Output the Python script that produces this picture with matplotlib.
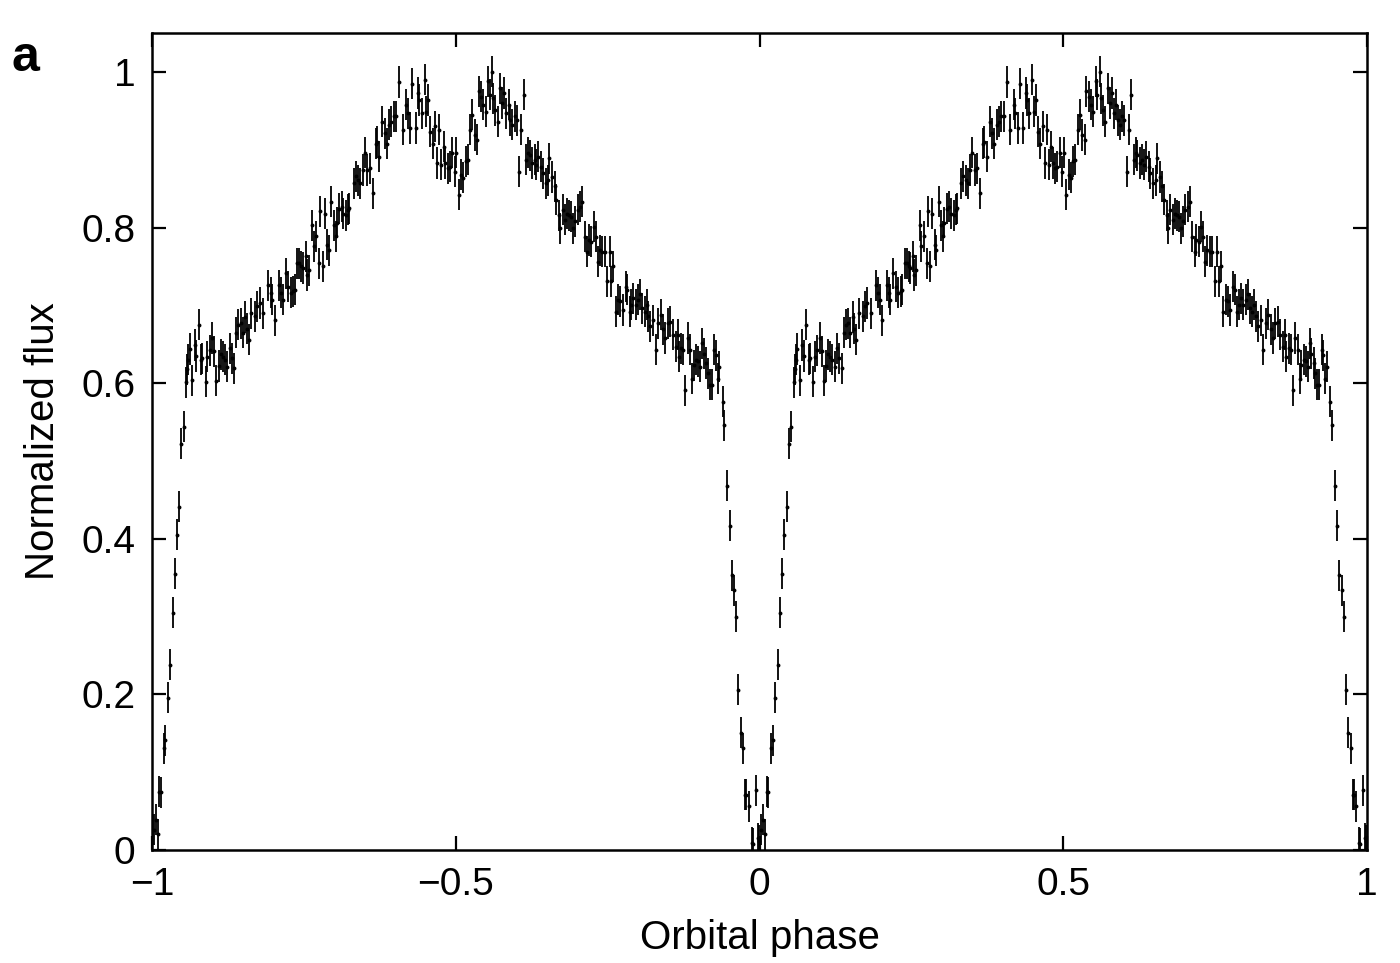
import numpy as np
import matplotlib
matplotlib.use("Agg")
import matplotlib.pyplot as plt

# one orbital cycle (phase in [-1, 0)); it is drawn twice
phase_cycle = [
    -0.997, -0.994, -0.991, -0.988, -0.986, -0.981, -0.978, -0.974, -0.970, -0.966,
    -0.963, -0.959, -0.955, -0.952, -0.948, -0.944, -0.942, -0.940, -0.938, -0.934,
    -0.930, -0.927, -0.923, -0.919, -0.917, -0.912, -0.909, -0.905, -0.901, -0.898,
    -0.894, -0.890, -0.887, -0.884, -0.880, -0.876, -0.872, -0.869, -0.865, -0.861,
    -0.858, -0.854, -0.851, -0.847, -0.844, -0.841, -0.837, -0.830, -0.827, -0.823,
    -0.817, -0.809, -0.805, -0.802, -0.798, -0.791, -0.787, -0.785, -0.780, -0.776,
    -0.772, -0.768, -0.765, -0.761, -0.758, -0.754, -0.752, -0.747, -0.745, -0.742,
    -0.736, -0.734, -0.730, -0.725, -0.723, -0.719, -0.716, -0.712, -0.709, -0.705,
    -0.701, -0.698, -0.696, -0.692, -0.688, -0.685, -0.680, -0.677, -0.675, -0.668,
    -0.665, -0.661, -0.657, -0.653, -0.650, -0.646, -0.642, -0.637, -0.632, -0.630,
    -0.626, -0.621, -0.617, -0.614, -0.610, -0.606, -0.602, -0.598, -0.593, -0.587,
    -0.582, -0.579, -0.575, -0.572, -0.566, -0.562, -0.560, -0.556, -0.551, -0.549,
    -0.545, -0.542, -0.538, -0.534, -0.531, -0.527, -0.524, -0.520, -0.517, -0.513,
    -0.510, -0.506, -0.502, -0.499, -0.495, -0.491, -0.488, -0.484, -0.480, -0.476,
    -0.473, -0.469, -0.465, -0.462, -0.458, -0.455, -0.451, -0.447, -0.444, -0.440,
    -0.438, -0.435, -0.431, -0.427, -0.424, -0.420, -0.417, -0.413, -0.410, -0.407,
    -0.403, -0.400, -0.396, -0.392, -0.388, -0.384, -0.381, -0.378, -0.374, -0.370,
    -0.368, -0.364, -0.359, -0.357, -0.352, -0.348, -0.346, -0.341, -0.337, -0.335,
    -0.330, -0.328, -0.324, -0.320, -0.317, -0.313, -0.310, -0.307, -0.303, -0.299,
    -0.295, -0.292, -0.288, -0.284, -0.281, -0.277, -0.273, -0.270, -0.266, -0.263,
    -0.259, -0.255, -0.251, -0.247, -0.244, -0.241, -0.237, -0.233, -0.229, -0.225,
    -0.220, -0.218, -0.214, -0.211, -0.208, -0.204, -0.200, -0.196, -0.193, -0.189,
    -0.186, -0.183, -0.180, -0.175, -0.171, -0.167, -0.163, -0.159, -0.155, -0.151,
    -0.147, -0.143, -0.138, -0.135, -0.133, -0.129, -0.126, -0.122, -0.118, -0.114,
    -0.111, -0.108, -0.104, -0.101, -0.098, -0.094, -0.092, -0.088, -0.085, -0.082,
    -0.079, -0.075, -0.072, -0.069, -0.066, -0.061, -0.058, -0.053, -0.049, -0.046,
    -0.042, -0.038, -0.035, -0.031, -0.027, -0.024, -0.022, -0.018, -0.013, -0.011,
    -0.006, -0.003, -0.001,
]
flux_cycle = [
    0.026, 0.039, 0.020, 0.075, 0.074, 0.131, 0.141, 0.196, 0.238, 0.305,
    0.355, 0.405, 0.441, 0.522, 0.544, 0.601, 0.618, 0.630, 0.644, 0.604,
    0.649, 0.635, 0.675, 0.630, 0.632, 0.602, 0.634, 0.642, 0.658, 0.641,
    0.603, 0.622, 0.637, 0.634, 0.630, 0.621, 0.645, 0.632, 0.619, 0.665,
    0.675, 0.677, 0.665, 0.685, 0.670, 0.656, 0.690, 0.686, 0.699, 0.703,
    0.690, 0.726, 0.716, 0.707, 0.681, 0.726, 0.716, 0.707, 0.741, 0.724,
    0.716, 0.718, 0.720, 0.754, 0.754, 0.750, 0.748, 0.763, 0.739, 0.745,
    0.803, 0.776, 0.789, 0.754, 0.821, 0.750, 0.818, 0.778, 0.771, 0.833,
    0.803, 0.789, 0.806, 0.824, 0.827, 0.818, 0.816, 0.823, 0.825, 0.857,
    0.866, 0.861, 0.857, 0.874, 0.896, 0.874, 0.876, 0.844, 0.908, 0.910,
    0.891, 0.936, 0.921, 0.908, 0.932, 0.936, 0.943, 0.943, 0.987, 0.926,
    0.958, 0.947, 0.928, 0.985, 0.928, 0.973, 0.964, 0.947, 0.990, 0.949,
    0.964, 0.923, 0.908, 0.930, 0.883, 0.926, 0.881, 0.904, 0.883, 0.876,
    0.878, 0.896, 0.872, 0.896, 0.842, 0.868, 0.864, 0.885, 0.887, 0.926,
    0.945, 0.919, 0.913, 0.975, 0.968, 0.958, 0.949, 0.988, 0.971, 1.000,
    0.966, 0.951, 0.936, 0.979, 0.960, 0.973, 0.947, 0.958, 0.938, 0.932,
    0.943, 0.938, 0.872, 0.926, 0.971, 0.887, 0.896, 0.893, 0.883, 0.887,
    0.881, 0.891, 0.878, 0.870, 0.857, 0.861, 0.889, 0.865, 0.853, 0.836,
    0.816, 0.799, 0.823, 0.810, 0.818, 0.816, 0.814, 0.799, 0.808, 0.823,
    0.827, 0.833, 0.788, 0.769, 0.784, 0.782, 0.801, 0.788, 0.756, 0.771,
    0.769, 0.769, 0.731, 0.769, 0.731, 0.750, 0.692, 0.707, 0.705, 0.694,
    0.724, 0.720, 0.692, 0.701, 0.709, 0.701, 0.707, 0.714, 0.696, 0.692,
    0.701, 0.686, 0.673, 0.681, 0.643, 0.677, 0.688, 0.669, 0.658, 0.677,
    0.679, 0.662, 0.647, 0.662, 0.634, 0.645, 0.643, 0.591, 0.658, 0.643,
    0.606, 0.623, 0.630, 0.628, 0.621, 0.651, 0.638, 0.626, 0.613, 0.598,
    0.598, 0.643, 0.636, 0.606, 0.621, 0.576, 0.546, 0.468, 0.417, 0.353,
    0.334, 0.300, 0.206, 0.151, 0.131, 0.071, 0.071, 0.056, 0.009, 0.008,
    0.077, 0.015, 0.012,
]
flux_err = 0.02

x_ticks = [-1, -0.5, 0, 0.5, 1]
x_tick_labels = ["\u22121", "\u22120.5", "0", "0.5", "1"]
y_ticks = [0, 0.2, 0.4, 0.6, 0.8, 1.0]
y_tick_labels = ["0", "0.2", "0.4", "0.6", "0.8", "1"]

plt.rcParams["font.family"] = ["Liberation Sans", "DejaVu Sans"]

phase = np.concatenate([np.array(phase_cycle), np.array(phase_cycle) + 1.0])
flux = np.concatenate([flux_cycle, flux_cycle])

fig = plt.figure(figsize=(14, 9.63), dpi=100)
ax = fig.add_axes([0.1086, 0.1173, 0.8679, 0.8484])

ax.errorbar(phase, flux, yerr=flux_err, fmt="o", color="black", ms=2.8,
            elinewidth=1.3, capsize=2.8, capthick=1.3, mew=0)

ax.set_xlim(-1, 1)
ax.set_ylim(0, 1.05)
ax.set_xticks(x_ticks)
ax.set_xticklabels(x_tick_labels)
ax.set_yticks(y_ticks)
ax.set_yticklabels(y_tick_labels)
ax.tick_params(direction="in", length=10, width=1.6, labelsize=28,
               top=True, right=True, pad=12)
for s in ax.spines.values():
    s.set_linewidth(1.8)

ax.set_xlabel("Orbital phase", fontsize=29, labelpad=12)
ax.set_ylabel("Normalized flux", fontsize=29, labelpad=14)
fig.text(0.008, 0.926, "a", fontsize=36, fontweight="heavy")

fig.savefig("out.png", dpi=100)
